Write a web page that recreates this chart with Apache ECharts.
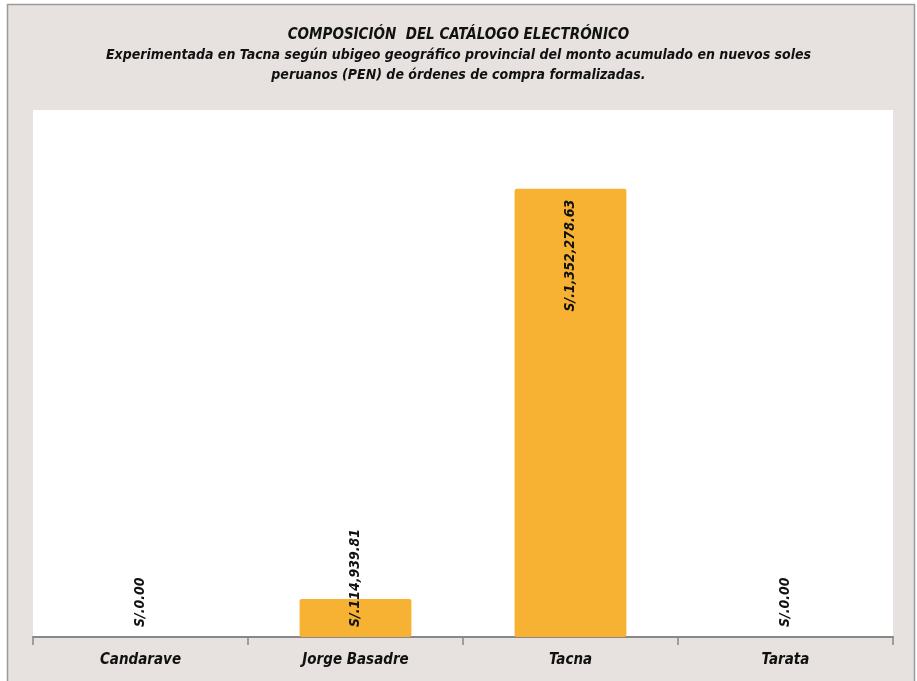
<!DOCTYPE html>
<html>
<head>
<meta charset="utf-8">
<script src="https://cdn.jsdelivr.net/npm/echarts@6/dist/echarts.min.js"></script>
<style>
  html, body { margin: 0; padding: 0; background: #fff; }
  #chart { width: 917px; height: 681px; }
</style>
</head>
<body>
<div id="chart"></div>
<script>
// datos
var provincias = ["Candarave", "Jorge Basadre", "Tacna", "Tarata"];
var montos = [0, 114939.81, 1352278.63, 0];
var titulo = "COMPOSICIÓN  DEL CATÁLOGO ELECTRÓNICO";
var subtitulo = "Experimentada en Tacna según ubigeo geográfico provincial del monto acumulado en nuevos soles\nperuanos (PEN) de órdenes de compra formalizadas.";

var fuente = "'Liberation Sans Narrow', 'DejaVu Sans Condensed', sans-serif";

function formatoSoles(v) {
  return "S/." + v.toLocaleString("en-US", { minimumFractionDigits: 2, maximumFractionDigits: 2 });
}

var chartDom = document.getElementById("chart");
var myChart = echarts.init(chartDom);

// la barra grande lleva la etiqueta arriba, las demás desde la base
var datos = montos.map(function (v) {
  var grande = v > 1000000;
  return {
    value: v,
    label: grande
      ? { position: "insideTop", align: "right", distance: 11 }
      : { position: "insideBottom", align: "left", distance: 10 }
  };
});

var option = {
  backgroundColor: "#ffffff",
  animation: false,
  graphic: [
    {
      type: "rect",
      z: -10,
      shape: { x: 7.5, y: 4.5, width: 907, height: 690 },
      style: { fill: "#E7E2DF", stroke: "#9a9a9a", lineWidth: 1.5 }
    }
  ],
  title: {
    text: titulo,
    subtext: subtitulo,
    left: "center",
    top: 23,
    itemGap: 2,
    textStyle: {
      fontFamily: fuente,
      fontStyle: "italic",
      fontWeight: "bold",
      fontSize: 15,
      color: "#111"
    },
    subtextStyle: {
      fontFamily: fuente,
      fontStyle: "italic",
      fontWeight: "bold",
      fontSize: 14,
      lineHeight: 20,
      color: "#111",
      align: "center"
    }
  },
  grid: {
    left: 33,
    right: 24,
    top: 110,
    bottom: 44,
    show: true,
    backgroundColor: "#ffffff",
    borderWidth: 0
  },
  xAxis: {
    type: "category",
    data: provincias,
    axisLine: { lineStyle: { color: "#888888", width: 2 } },
    axisTick: { show: true, length: 8, lineStyle: { color: "#888888", width: 1.5 } },
    axisLabel: {
      fontFamily: fuente,
      fontStyle: "italic",
      fontWeight: "bold",
      fontSize: 15,
      color: "#111",
      margin: 16
    }
  },
  yAxis: {
    type: "value",
    min: 0,
    max: 1590000,
    show: false,
    splitLine: { show: false }
  },
  series: [
    {
      type: "bar",
      data: datos,
      barWidth: "52%",
      itemStyle: { color: "#F7B233", borderRadius: 2 },
      label: {
        show: true,
        rotate: 90,
        verticalAlign: "middle",
        fontFamily: fuente,
        fontStyle: "italic",
        fontWeight: "bold",
        fontSize: 14,
        color: "#111",
        formatter: function (p) { return formatoSoles(p.value); }
      }
    }
  ]
};

option && myChart.setOption(option);
</script>
</body>
</html>
